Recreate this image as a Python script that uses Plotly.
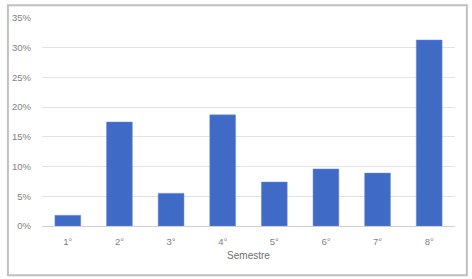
import plotly.graph_objects as go

categories = ["1°", "2°", "3°", "4°", "5°", "6°", "7°", "8°"]
values = [0.018, 0.175, 0.055, 0.187, 0.074, 0.096, 0.089, 0.313]
y_ticks = [0, 0.05, 0.10, 0.15, 0.20, 0.25, 0.30, 0.35]
y_ticklabels = ["0%", "5%", "10%", "15%", "20%", "25%", "30%", "35%"]

W, H = 472, 279
L, R, T, B = 37, 455, 15, 226

def px_x(p):
    return (p - L) / (R - L)

def px_y(p):
    return (B - p) / (B - T)

fig = go.Figure(go.Bar(
    x=categories, y=values,
    marker=dict(color="#3f6ac6", line=dict(color="#6e8fd6", width=0.5)),
    width=0.5,
))

fig.update_layout(
    width=W, height=H,
    margin=dict(l=L, r=W - R, t=T, b=H - B),
    paper_bgcolor="white", plot_bgcolor="white",
    font=dict(family="Liberation Sans, Arial, sans-serif", size=10, color="#7f7f7f"),
    showlegend=False,
    xaxis=dict(
        title=dict(text="Semestre", font=dict(size=10, color="#6f6f6f"), standoff=6),
        showgrid=False, ticks="", showline=False, ticklabelstandoff=8,
        tickfont=dict(size=9.5, color="#7f7f7f"),
    ),
    yaxis=dict(
        range=[0, 0.35], tickvals=y_ticks, ticktext=y_ticklabels,
        showgrid=True, gridcolor="#e3e3e3", gridwidth=1,
        zeroline=True, zerolinecolor="#d0d0d0", zerolinewidth=1,
        ticks="", showline=False, ticklabelstandoff=10,
        tickfont=dict(size=9.5, color="#7f7f7f"),
    ),
    shapes=[dict(
        type="rect", xref="paper", yref="paper",
        x0=px_x(2.5), x1=px_x(467), y0=px_y(276), y1=px_y(2),
        line=dict(color="#c0c0c0", width=2), fillcolor="rgba(0,0,0,0)",
    )],
)

fig.write_html(
    "out.html",
    config={"displayModeBar": False},
    post_script="document.body.style.margin='0';document.body.style.overflow='hidden';",
)
